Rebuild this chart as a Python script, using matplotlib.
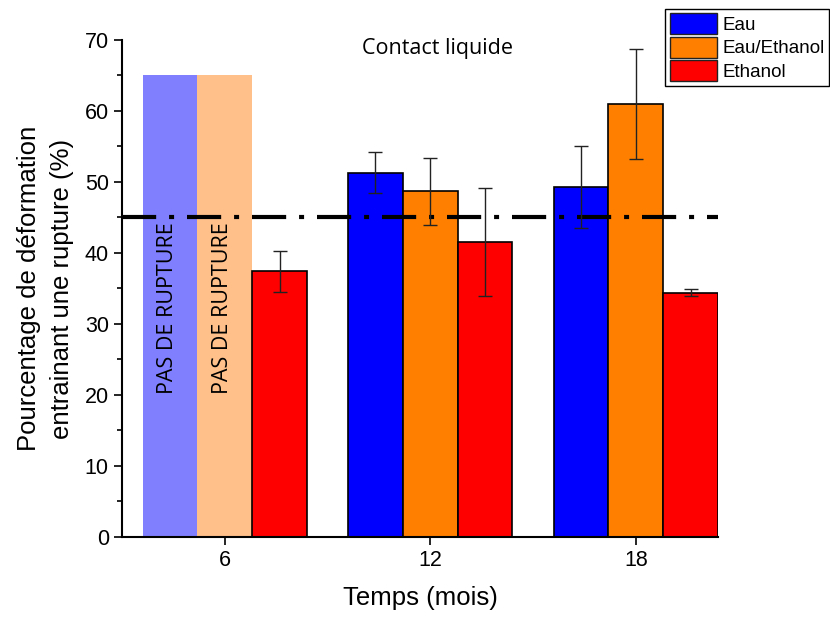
import numpy as np
import matplotlib.pyplot as plt
from matplotlib.patches import Patch

mois = [6, 12, 18]
series = ['Eau', 'Eau/Ethanol', 'Ethanol']
couleurs = ['#0000ff', '#ff8000', '#ff0000']
couleurs_pales = ['#8080ff', '#ffc08a', '#ff8080']

# valeurs (%) et ecarts
eau = [65.0, 51.3, 49.3]
eau_eth = [65.0, 48.7, 61.0]
ethanol = [37.4, 41.5, 34.4]
err_eau = [0, 2.9, 5.8]
err_eau_eth = [0, 4.7, 7.7]
err_ethanol = [2.9, 7.6, 0.5]
# pas de rupture a 6 mois pour eau et eau/ethanol
pas_rupture = [[True, False, False], [True, False, False], [False, False, False]]
seuil = 45

plt.rcParams['font.family'] = ['Liberation Sans', 'DejaVu Sans']

fig = plt.figure(figsize=(8.3, 6.17), dpi=100)
ax = fig.add_axes([0.147, 0.1297, 0.718, 0.8055])

largeur = 1.6
decal = [-1.6, 0, 1.6]
valeurs = [eau, eau_eth, ethanol]
erreurs = [err_eau, err_eau_eth, err_ethanol]

for k in range(3):
    for i, m in enumerate(mois):
        x = m + decal[k]
        if pas_rupture[k][i]:
            ax.bar(x, valeurs[k][i], largeur, color=couleurs_pales[k], edgecolor='none', zorder=2)
            ax.text(x - 0.08, 32.3, 'PAS DE RUPTURE', rotation=90, ha='center', va='center',
                    fontsize=15.5, family='Open Sans', zorder=2.5)
        else:
            ax.bar(x, valeurs[k][i], largeur, color=couleurs[k], edgecolor='black', linewidth=1.2, zorder=2)
            ax.errorbar(x, valeurs[k][i], yerr=erreurs[k][i], color='#222222', elinewidth=1,
                        capsize=5, capthick=1, zorder=4)

ax.axhline(seuil, color='black', linewidth=3, dashes=(8.2, 3.1, 1.2, 3.1), zorder=3)

ax.text(12.2, 68.8, 'Contact liquide', ha='center', va='center', fontsize=15.5, family='Open Sans')

ax.set_xlim(3, 20.4)
ax.set_ylim(0, 70)
ax.set_xticks(mois)
ax.set_yticks(np.arange(0, 71, 10))
ax.set_yticks(np.arange(5, 70, 10), minor=True)
ax.tick_params(axis='both', which='major', direction='out', length=6, width=1.2, labelsize=15.5)
ax.tick_params(axis='y', which='minor', direction='out', length=3.5, width=1.2)
ax.spines['top'].set_visible(False)
ax.spines['right'].set_visible(False)
ax.spines['left'].set_linewidth(1.5)
ax.spines['bottom'].set_linewidth(1.5)

ax.set_xlabel('Temps (mois)', fontsize=18.5, labelpad=11)
ax.set_ylabel('Pourcentage de déformation\nentrainant une rupture (%)', fontsize=18.5,
              labelpad=8, linespacing=1.45)

poignees = [Patch(facecolor=c, edgecolor='#222222', linewidth=1) for c in couleurs]
leg = fig.legend(poignees, series, loc='upper right', bbox_to_anchor=(0.999, 0.986),
                 fontsize=13.5, fancybox=False, edgecolor='black', framealpha=1,
                 handlelength=2.5, handleheight=1.35, handletextpad=0.3,
                 labelspacing=0.12, borderpad=0.25, borderaxespad=0)
leg.get_frame().set_linewidth(1)

fig.savefig('out.png', dpi=100)
